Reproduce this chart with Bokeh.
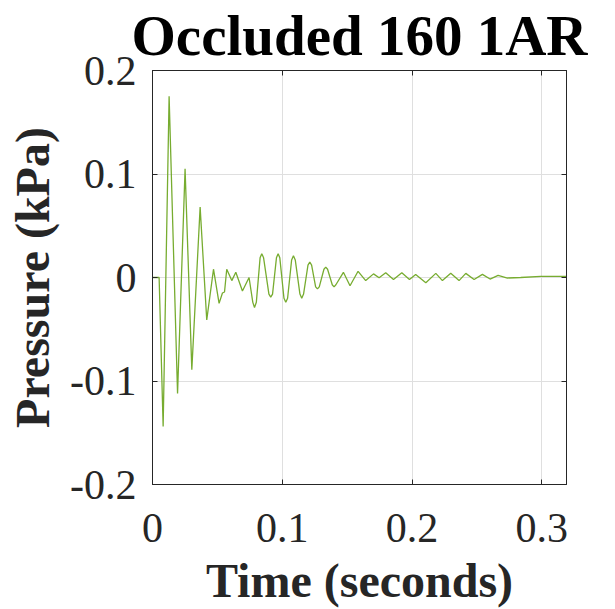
from bokeh.plotting import figure
from bokeh.models import Range1d, FixedTicker, LinearAxis
from bokeh.embed import file_html
from bokeh.resources import INLINE

# ---- data ----
time_s = [0.0, 0.0051, 0.0082, 0.0128, 0.0193, 0.0251, 0.0303, 0.0367, 0.0418,
          0.0470, 0.0513, 0.0539, 0.0555, 0.0572, 0.0611, 0.0642, 0.0693, 0.0744,
          0.0773, 0.0786, 0.0800, 0.0829, 0.0842, 0.0856, 0.0897, 0.0911, 0.0925,
          0.0955, 0.0968, 0.0981, 0.1013, 0.1027, 0.1041, 0.1072, 0.1086, 0.1100,
          0.1136, 0.1150, 0.1164, 0.1198, 0.1212, 0.1226, 0.1257, 0.1271, 0.1285,
          0.1321, 0.1335, 0.1349, 0.1385, 0.1399, 0.1413,
          0.1471, 0.1522, 0.1584, 0.1643, 0.1703, 0.1746, 0.1797,
          0.1857, 0.1921, 0.1980, 0.2028, 0.2106, 0.2183, 0.2234, 0.2298, 0.2362,
          0.2414, 0.2478, 0.2542, 0.2601, 0.2663, 0.2735, 0.2837, 0.2992, 0.3171,
          0.3190]
pressure_kpa = [0.0, 0.0, -0.144, 0.175, -0.112, 0.105, -0.089, 0.068, -0.041,
                0.008, -0.025, -0.015, -0.014, 0.008, -0.003, 0.005, -0.013, 0.0,
                -0.024, -0.029, -0.024, 0.019, 0.023, 0.019, -0.016, -0.019, -0.016,
                0.019, 0.023, 0.019, -0.020, -0.024, -0.020, 0.017, 0.021, 0.017,
                -0.016, -0.020, -0.016, 0.012, 0.015, 0.012, -0.009, -0.011, -0.009,
                0.008, 0.010, 0.008, -0.007, -0.009, -0.007,
                0.005, -0.008, 0.006, -0.003, 0.0035, -0.0003, 0.0045,
                -0.002, 0.0045, -0.002, 0.003, -0.005, 0.004, -0.003, 0.004, -0.003,
                0.004, -0.002, 0.003, -0.0015, 0.002, -0.0005, 0.0, 0.001, 0.001,
                0.001]
x_ticks = [0, 0.1, 0.2, 0.3]
y_ticks = [-0.2, -0.1, 0, 0.1, 0.2]
x_tick_labels = {0: "0", 0.1: "0.1", 0.2: "0.2", 0.3: "0.3"}
y_tick_labels = {-0.2: "-0.2", -0.1: "-0.1", 0: "0", 0.1: "0.1", 0.2: "0.2"}
title_text = "Occluded 160 1AR"
x_label = "Time (seconds)"
y_label = "Pressure (kPa)"

SERIF = "Liberation Serif"
AX = "#262626"

p = figure(width=615, height=609, output_backend="svg", toolbar_location=None,
           x_range=Range1d(0, 0.319), y_range=Range1d(-0.2, 0.2),
           min_border_left=152, min_border_right=49, min_border_top=69,
           min_border_bottom=124)
p.background_fill_color = "white"
p.border_fill_color = "white"
p.outline_line_color = AX
p.outline_line_width = 1

p.line(time_s, pressure_kpa, line_color="#77AC30", line_width=1.3)

# top / right axes: they carry the inward box ticks (and the title above)
p.add_layout(LinearAxis(), "above")
p.add_layout(LinearAxis(), "right")

for ax in p.xaxis:
    ax.ticker = FixedTicker(ticks=x_ticks)
for ax in p.yaxis:
    ax.ticker = FixedTicker(ticks=y_ticks)
for ax in list(p.xaxis) + list(p.yaxis):
    ax.minor_tick_line_color = None
    ax.major_tick_in = 5
    ax.major_tick_out = 0
    ax.axis_line_color = AX
    ax.major_tick_line_color = AX
    ax.major_label_text_font = SERIF
    ax.major_label_text_font_size = "42px"
    ax.major_label_text_color = AX
    ax.axis_label_text_font = SERIF
    ax.axis_label_text_font_style = "bold"
    ax.axis_label_text_font_size = "48px"
    ax.axis_label_text_color = AX

top_ax, right_ax = p.above[0], p.right[0]
top_ax.major_label_overrides = {t: "" for t in x_tick_labels}
right_ax.major_label_overrides = {t: "" for t in y_tick_labels}
for ax in (top_ax, right_ax):
    ax.major_label_text_color = None
    ax.major_label_standoff = 0

top_ax.axis_label = title_text
top_ax.axis_label_text_font_size = "57px"
top_ax.axis_label_text_color = "black"
top_ax.axis_label_standoff = 4

bottom_ax, left_ax = p.below[0], p.left[0]
bottom_ax.major_label_overrides = x_tick_labels
bottom_ax.major_label_standoff = 29
bottom_ax.axis_label = x_label
bottom_ax.axis_label_standoff = 9
left_ax.major_label_overrides = y_tick_labels
left_ax.major_label_standoff = 16
left_ax.axis_label = y_label
left_ax.axis_label_standoff = 8

p.xgrid.ticker = FixedTicker(ticks=x_ticks)
p.ygrid.ticker = FixedTicker(ticks=y_ticks)
p.grid.grid_line_color = "#dfdfdf"
p.grid.grid_line_width = 1

open("out.html", "w").write(file_html(p, INLINE))
